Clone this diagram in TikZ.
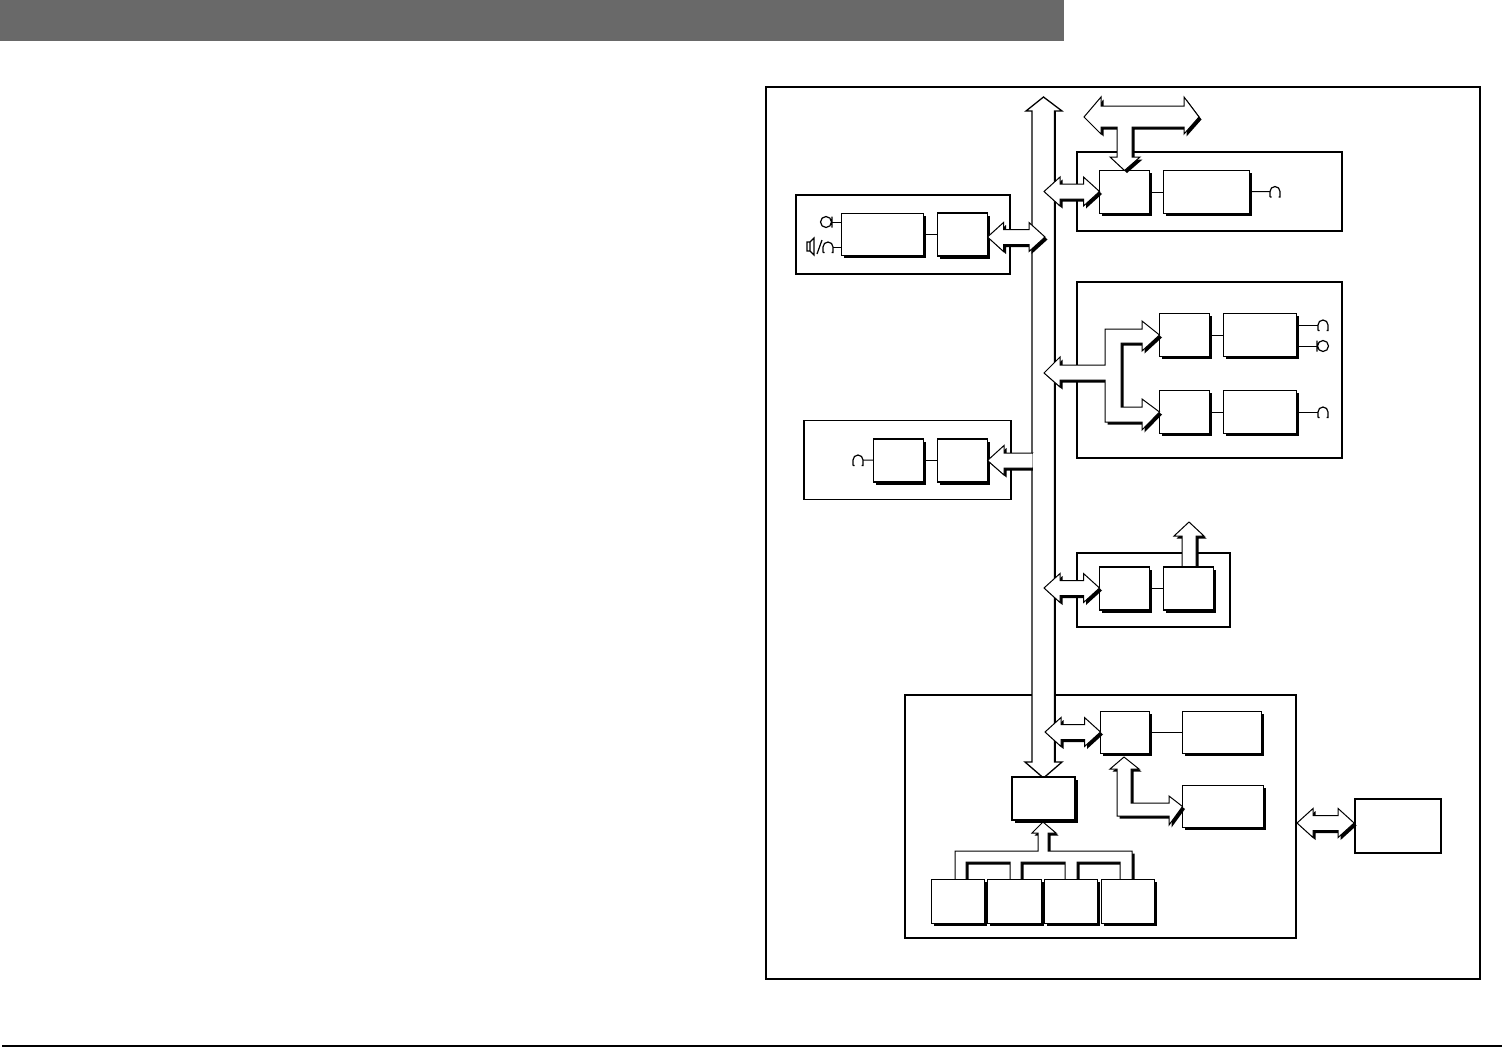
\documentclass[tikz,border=0pt]{standalone}
\usepackage{tikz}
\usetikzlibrary{calc,shadows}

\definecolor{hdrgray}{HTML}{696969}

\tikzset{
    pics/hphone/.style={code={
        \draw[line width=1.2pt] (-5,5.5) -- (-3.5,5.5) (-5,5.5) -- (-5,0) arc (180:360:5) -- (5,5.5) -- (3.5,5.5);
    }},
    pics/micl/.style={code={
        \draw[line width=1.2pt] (0,0) circle (5.5) (6,-5.5) -- (6,5.5);
    }},
    pics/micr/.style={code={
        \draw[line width=1.2pt] (0,0) circle (5.5) (-6,-5.5) -- (-6,5.5);
    }}
}

\newcommand{\dblh}[2]{%
    \draw[barr] let \p1=(#1), \p2=(#2) in
        (\x1,\y1) -- (\x1+16pt,\y1+14.5pt) -- (\x1+16pt,\y1+7.5pt) -- (\x2-16pt,\y1+7.5pt)
        -- (\x2-16pt,\y1+14.5pt) -- (\x2,\y1) -- (\x2-16pt,\y1-14.5pt) -- (\x2-16pt,\y1-7.5pt)
        -- (\x1+16pt,\y1-7.5pt) -- (\x1+16pt,\y1-14.5pt) -- cycle;
}

\begin{document}
\begin{tikzpicture}[
    x=1pt, y=-1pt,
    frm/.style={draw, line width=1.6pt, fill=white, inner sep=0pt, outer sep=0pt},
    blk/.style={draw, line width=1.3pt, fill=white, inner sep=0pt, outer sep=0pt, xshift=.5pt, yshift=-.5pt,
        drop shadow={shadow xshift=2.5pt, shadow yshift=-2.5pt, fill=black, opacity=1}},
    sbox/.style={blk, minimum width=50, minimum height=43},
    hvy/.style={blk, line width=1.8pt, xshift=-.5pt, yshift=.5pt},
    wire/.style={line width=1pt},
    barr/.style={draw, line width=1pt, fill=white, line join=miter,
        drop shadow={shadow xshift=2.5pt, shadow yshift=-2.5pt, fill=black, opacity=1}}
]
\useasboundingbox (0,0) rectangle (1502,1047);

% page furniture
\fill[hdrgray] (0,0) rectangle (1064,41);
\draw[line width=2pt] (2,1045.5) -- (1502,1045.5);

% frames
\node[frm, minimum width=714, minimum height=892] (outer) at (1123,533) {};
\node[frm, minimum width=214, minimum height=79] (audfrm) at (903,234.5) {};
\node[frm, minimum width=207, minimum height=79] (recfrm) at (907.5,460) {};
\node[frm, minimum width=265, minimum height=79] (memfrm) at (1209.5,191.5) {};
\node[frm, minimum width=265, minimum height=176] (codfrm) at (1209.5,370) {};
\node[frm, minimum width=153, minimum height=74] (iofrm) at (1153.5,590) {};
\node[frm, minimum width=391, minimum height=243] (cpufrm) at (1100.5,816.5) {};

% bus
\draw[line width=1.3pt, fill=white] (1043.5,97) -- (1062,111) -- (1054.5,111) -- (1054.5,762) -- (1062,762)
    -- (1043.5,778) -- (1025,762) -- (1032,762) -- (1032,111) -- (1026,111) -- cycle;
\draw[line width=2pt] (1055,111) -- (1055,762);

% comb under the four channel boxes
\draw[barr] (955,880) -- (955,851) -- (1038,851) -- (1038,833) -- (1032,833) -- (1043,822) -- (1056,833)
    -- (1048,833) -- (1048,851) -- (1132,851) -- (1132,880) -- (1120,880) -- (1120,862) -- (1077,862) -- (1077,880)
    -- (1065,880) -- (1065,862) -- (1021,862) -- (1021,880) -- (1010,880) -- (1010,862) -- (966,862) -- (966,880) -- cycle;

% up arrow under its box
\coordinate (iotip) at (1189,522);
\draw[barr] (iotip) -- (1204,536) -- (1196,536) -- (1196,570) -- (1182,570) -- (1182,536) -- (1174,536) -- cycle;

% boxes
\node[blk, minimum width=82, minimum height=42] (aud1) at (882,234) {};
\node[sbox] (aud2) at (962,234) {};
\node[sbox] (rec1) at (898,460) {};
\node[sbox] (rec2) at (962,460) {};
\node[sbox] (mem1) at (1124,191.5) {};
\node[blk, minimum width=86, minimum height=43] (mem2) at (1206,191.5) {};
\node[sbox] (cod1) at (1184,334.5) {};
\node[blk, minimum width=73, minimum height=43] (cod2) at (1259.5,334.5) {};
\node[sbox] (cod3) at (1184,411.5) {};
\node[blk, minimum width=73, minimum height=43] (cod4) at (1259.5,411.5) {};
\node[sbox] (io1) at (1124,588) {};
\node[sbox] (io2) at (1188,588) {};
\node[hvy, minimum width=49, minimum height=42] (cpu) at (1125,732.5) {};
\node[hvy, minimum width=79, minimum height=42] (ram) at (1222,732.5) {};
\node[hvy, minimum width=81, minimum height=42] (rom) at (1223,806.5) {};
\node[blk, minimum width=63, minimum height=43] (arb) at (1043,798) {};
\node[hvy, minimum width=53, minimum height=44] (ch1) at (958,901.5) {};
\node[hvy, minimum width=54, minimum height=44] (ch2) at (1014.5,901.5) {};
\node[hvy, minimum width=53, minimum height=44] (ch3) at (1071,901.5) {};
\node[hvy, minimum width=53, minimum height=44] (ch4) at (1128,901.5) {};
\node[draw, line width=1.8pt, fill=white, minimum width=86, minimum height=54, inner sep=0pt] (ext) at (1398,826) {};

% free ends of the block arrows
\coordinate (audbus) at (1045,237);
\coordinate (membus) at (1044,191.5);
\coordinate (iobus) at (1044,588);
\coordinate (cpubus) at (1045,732);
\coordinate (extl) at (1297,823);

% block arrows
\dblh{aud2.east |- audbus}{audbus}
\dblh{membus}{mem1.west |- membus}
\dblh{iobus}{io1.west |- iobus}
\dblh{cpubus}{cpu.west |- cpubus}
\dblh{extl}{ext.west |- extl}

\draw[barr] (1084,117) -- (1101,97) -- (1101,106) -- (1184,106) -- (1184,97) -- (1199,117)
    -- (1184,134) -- (1184,127) -- (1132,127) -- (1132,157) -- (1140,157) -- (mem1.north)
    -- (1110,157) -- (1117,157) -- (1117,127) -- (1101,127) -- (1101,134) -- cycle;

\draw[barr] (1044,373) -- (1060,357) -- (1060,365) -- (1105,365) -- (1105,329) -- (1142,329) -- (1142,321)
    -- (cod1.west) -- (1142,351) -- (1142,343) -- (1121,343) -- (1121,407) -- (1142,407) -- (1142,399)
    -- (cod3.west) -- (1142,430) -- (1142,422) -- (1105,422) -- (1105,380) -- (1060,380) -- (1060,387) -- cycle;

\draw[barr] (rec2.east) -- (1004,445.5) -- (1004,453) -- (1033,453) -- (1033,468) -- (1004,468) -- (1004,475) -- cycle;
\fill[white] (1032.6,452.5) rectangle (1037,472);

\draw[barr] (1124,757) -- (1139,769) -- (1131,769) -- (1131,803) -- (1169,803) -- (1169,796) -- (rom.west)
    -- (1169,825) -- (1169,816) -- (1117,816) -- (1117,769) -- (1110,769) -- cycle;

% thin links
\draw[wire] (aud1) -- (aud2);
\draw[wire] (rec1) -- (rec2);
\draw[wire] (mem1) -- (mem2);
\draw[wire] (cod1) -- (cod2);
\draw[wire] (cod3) -- (cod4);
\draw[wire] (io1) -- (io2);
\draw[line width=1.5pt] (cpu) -- (ram);

% jacks
\coordinate (hp1) at (1275,191.5);
\coordinate (hp2) at (1323,325);
\coordinate (mc1) at (1323,346);
\coordinate (hp3) at (1323,412);
\coordinate (hp4) at (858,460);
\coordinate (mc2) at (826,222);
\coordinate (hp5) at (828,247);
\draw[wire] (mem2) -- ($(hp1)+(-5,0)$);
\draw[wire] (cod2.east |- hp2) -- ($(hp2)+(-5,0)$);
\draw[wire] (cod2.east |- mc1) -- ($(mc1)+(-6,0)$);
\draw[wire] (cod4.east |- hp3) -- ($(hp3)+(-5,0)$);
\draw[wire] (rec1) -- ($(hp4)+(5,0)$);
\draw[wire] (aud1.west |- mc2) -- ($(mc2)+(5,0)$);
\draw[wire] (aud1.west |- hp5) -- ($(hp5)+(5,0)$);
\pic at (hp1) {hphone};
\pic at (hp2) {hphone};
\pic at (mc1) {micr};
\pic at (hp3) {hphone};
\pic at (hp4) {hphone};
\pic at (mc2) {micl};
\pic at (hp5) {hphone};

% speaker and slash
\draw[line width=1.2pt] (807,242) rectangle (810,251) (810,242) -- (814,238) -- (814,255) -- (810,251);
\draw[line width=1.2pt] (817,254) -- (822,240);
\end{tikzpicture}
\end{document}
